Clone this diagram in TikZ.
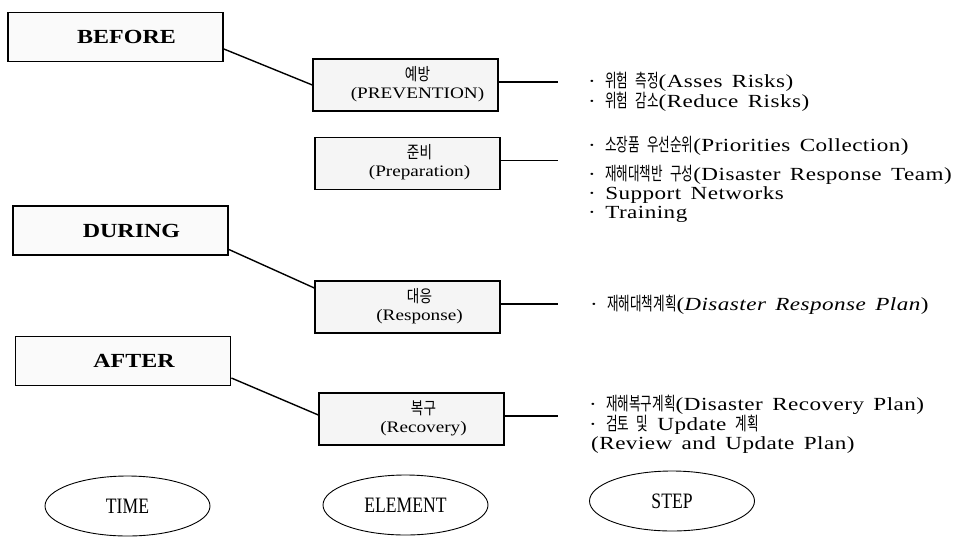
\documentclass[tikz,border=0pt]{standalone}
\usepackage{fontspec}
\setmainfont[FakeStretch=1.2]{Liberation Serif}
\newfontfamily\stepfont[FakeStretch=1.25,LetterSpace=2.5,WordSpace=1.5]{Liberation Serif}
\newfontfamily\kr[FakeStretch=0.8]{Noto Sans CJK KR}
\newfontfamily\krstep[FakeStretch=0.68,WordSpace=2.5]{Noto Sans CJK KR}
\newfontfamily\narrowfont[FakeStretch=0.8]{Liberation Serif}
\usetikzlibrary{shapes.geometric}
\newcommand{\ko}[1]{{\krstep\fontsize{18.5}{19}\selectfont #1}}
\newcommand{\elemlabel}[2]{\hspace*{24pt}\begin{tabular}{@{}c@{}}{\kr\fontsize{17}{18}\selectfont #1}\\#2\end{tabular}}
\tikzset{
	timebox/.style={
			draw, line width=1.8pt, fill=gray!4,
			minimum width=215pt, minimum height=49pt,
			font=\fontsize{20}{22}\selectfont\bfseries,
			execute at begin node=\hspace*{22pt}
		},
	elembox/.style={
			draw, line width=1.3pt, fill=gray!8,
			minimum width=185pt, minimum height=52pt, inner sep=0pt,
			font=\fontsize{16}{18}\selectfont
		},
	steptext/.style={anchor=west, align=left, inner sep=0pt, font=\stepfont\fontsize{18.5}{19}\selectfont},
	axisname/.style={draw, ellipse, line width=0.9pt, minimum width=165pt, minimum height=60pt,
			font=\narrowfont\fontsize{22}{24}\selectfont},
	link/.style={line width=1.4pt}
}

\begin{document}
\begin{tikzpicture}[x=1pt,y=-1pt]
			\useasboundingbox (0,0) rectangle (963,539);

			% Time boxes
			\node[timebox] (before) at (115.5,37) {BEFORE};
			\node[timebox] (during) at (120.5,230.5) {DURING};
			\node[timebox] (after) at (123,361) {AFTER};

			% Element boxes
			\node[elembox] (prevention) at (405.5,85) {\elemlabel{예방}{(PREVENTION)}};
			\node[elembox] (preparation) at (407.5,163.5) {\elemlabel{준비}{(Preparation)}};
			\node[elembox] (response) at (407.5,307) {\elemlabel{대응}{(Response)}};
			\node[elembox] (recovery) at (411.5,419) {\elemlabel{복구}{(Recovery)}};

			% Steps
			\node[steptext] (prevsteps) at (588,92) {· \ko{위험 측정}(Asses Risks)\\ · \ko{위험 감소}(Reduce Risks)};
			\node[steptext] (prepsteps) at (588,179) {· \ko{소장품 우선순위}(Priorities Collection)\\[9pt] · \ko{재해대책반 구성}(Disaster Response Team)\\ · Support Networks\\ · Training};
			\node[steptext] (respsteps) at (590,305) {· \ko{재해대책계획}(\textit{Disaster Response Plan})};
			\node[steptext] (recsteps) at (589,424) {· \ko{재해복구계획}(Disaster Recovery Plan)\\ · \ko{검토 및} Update \ko{계획}\\ \hspace*{2pt}(Review and Update Plan)};

			% Time to element
			\draw[link] ([yshift=-12pt]before.east) -- (prevention.west);
			\draw[link] ([yshift=-19pt]during.east) -- ([yshift=19pt]response.west);
			\draw[link] ([yshift=-17pt]after.east) -- ([yshift=4pt]recovery.west);

			% Element to step
			\coordinate (stepx) at (558,0);
			\foreach \e in {prevention,preparation,response,recovery}
				\draw[link] ([yshift=3pt]\e.east) -- ([yshift=3pt]\e.east -| stepx);

			% Axis names
			\node[axisname] (time) at (127.5,506) {TIME};
			\node[axisname] (element) at (405.5,505) {ELEMENT};
			\node[axisname] (step) at (672,501) {STEP};
		\end{tikzpicture}
\end{document}
